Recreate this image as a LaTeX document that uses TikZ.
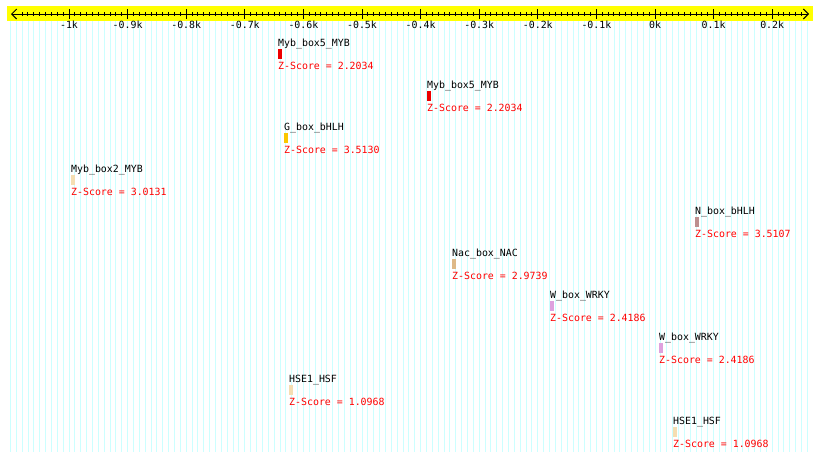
\documentclass[tikz,border=0pt]{standalone}
\usepackage{fontspec}
\setmonofont{DejaVu Sans Mono}
\usetikzlibrary{arrows.meta}
\definecolor{BandClr}{rgb}{1,1,0}
\definecolor{GridClr}{rgb}{0.8,1,1}
\definecolor{ScoreClr}{rgb}{1,0,0}
\definecolor{MybClr}{rgb}{0.93,0,0}
\definecolor{GboxClr}{rgb}{0.98,0.78,0}
\definecolor{WheatClr}{rgb}{0.96,0.87,0.70}
\definecolor{NboxClr}{rgb}{0.74,0.56,0.56}
\definecolor{NacClr}{rgb}{0.87,0.72,0.53}
\definecolor{WboxClr}{rgb}{0.87,0.63,0.87}

\begin{document}
\begin{tikzpicture}[x=1pt,y=-1pt,
  txt/.style={inner sep=0pt,anchor=base west,font=\fontsize{9.9}{11}\selectfont\ttfamily},
  motifname/.style={txt,text=black},
  zscore/.style={txt,text=ScoreClr},
  motifbar/.style={rectangle,inner sep=0pt,minimum width=4pt,minimum height=10pt,anchor=north west,fill=#1},
  ticklabel/.style={inner sep=0pt,anchor=base,font=\fontsize{9.9}{11}\selectfont\ttfamily}]
\useasboundingbox[fill=white] (0,0) rectangle (820,461);

% background grid
\foreach \i in {-110,...,26}
  \draw[GridClr,line width=0.9pt] ({655+5.86*\i},21) -- ({655+5.86*\i},452);

% ruler
\fill[BandClr] (7,6) rectangle (813,21);
\coordinate (axl) at (11,14);
\coordinate (axr) at (809,14);
\draw[line width=1pt,{Straight Barb[length=5pt,width=10pt]}-{Straight Barb[length=5pt,width=10pt]}] (axl) -- (axr);
\foreach \i in {-108,...,25}
  \draw[line width=1pt] ({655+5.86*\i},12) -- ({655+5.86*\i},16);
\foreach \j/\t in {-10/-1k,-9/-0.9k,-8/-0.8k,-7/-0.7k,-6/-0.6k,-5/-0.5k,-4/-0.4k,-3/-0.3k,-2/-0.2k,-1/-0.1k,0/0k,1/0.1k,2/0.2k}{
  \draw[line width=1pt] ({655+58.6*\j},9) -- ({655+58.6*\j},19);
  \node[ticklabel] (tick\j) at ({655+58.6*\j},28.5) {\t};
}

% motifs
\node[motifname] (name1) at (278,46.5) {Myb\_box5\_MYB};
\node[motifbar=MybClr] (bar1) at (278,49) {};
\node[zscore] (score1) at (278,69) {Z-Score = 2.2034};

\node[motifname] (name2) at (427,88.5) {Myb\_box5\_MYB};
\node[motifbar=MybClr] (bar2) at (427,91) {};
\node[zscore] (score2) at (427,111) {Z-Score = 2.2034};

\node[motifname] (name3) at (284,130.5) {G\_box\_bHLH};
\node[motifbar=GboxClr] (bar3) at (284,133) {};
\node[zscore] (score3) at (284,153) {Z-Score = 3.5130};

\node[motifname] (name4) at (71,172.5) {Myb\_box2\_MYB};
\node[motifbar=WheatClr] (bar4) at (71,175) {};
\node[zscore] (score4) at (71,195) {Z-Score = 3.0131};

\node[motifname] (name5) at (695,214.5) {N\_box\_bHLH};
\node[motifbar=NboxClr] (bar5) at (695,217) {};
\node[zscore] (score5) at (695,237) {Z-Score = 3.5107};

\node[motifname] (name6) at (452,256.5) {Nac\_box\_NAC};
\node[motifbar=NacClr] (bar6) at (452,259) {};
\node[zscore] (score6) at (452,279) {Z-Score = 2.9739};

\node[motifname] (name7) at (550,298.5) {W\_box\_WRKY};
\node[motifbar=WboxClr] (bar7) at (550,301) {};
\node[zscore] (score7) at (550,321) {Z-Score = 2.4186};

\node[motifname] (name8) at (659,340.5) {W\_box\_WRKY};
\node[motifbar=WboxClr] (bar8) at (659,343) {};
\node[zscore] (score8) at (659,363) {Z-Score = 2.4186};

\node[motifname] (name9) at (289,382.5) {HSE1\_HSF};
\node[motifbar=WheatClr] (bar9) at (289,385) {};
\node[zscore] (score9) at (289,405) {Z-Score = 1.0968};

\node[motifname] (name10) at (673,424.5) {HSE1\_HSF};
\node[motifbar=WheatClr] (bar10) at (673,427) {};
\node[zscore] (score10) at (673,447) {Z-Score = 1.0968};

\end{tikzpicture}
\end{document}
